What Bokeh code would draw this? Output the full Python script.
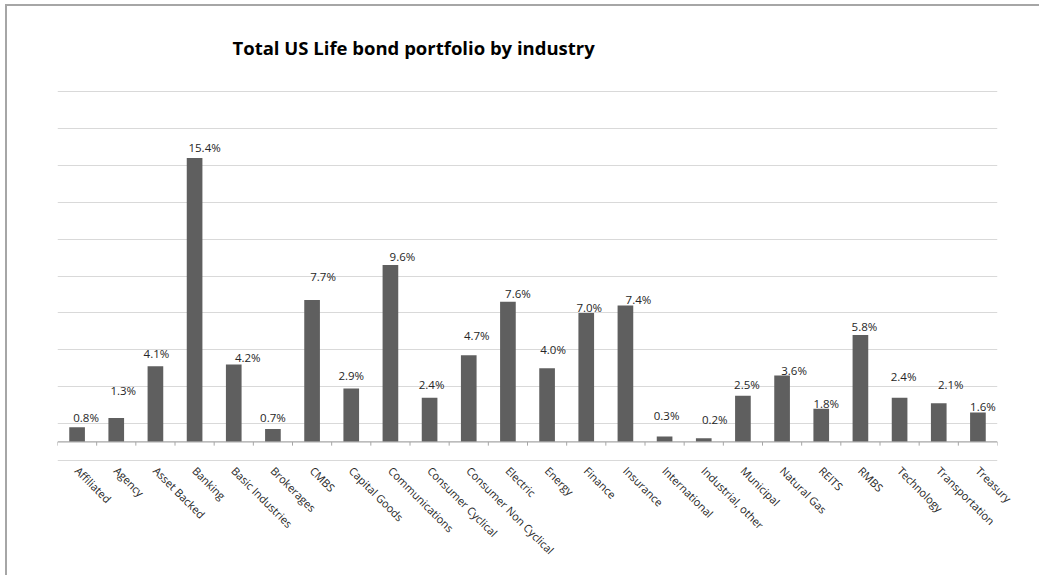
import math
from bokeh.plotting import figure
from bokeh.models import ColumnDataSource, Range1d, FixedTicker, Span, LabelSet
from bokeh.core.properties import value
from bokeh.transform import dodge
from bokeh.embed import file_html
from bokeh.resources import INLINE

categories = ["Affiliated", "Agency", "Asset Backed", "Banking", "Basic Industries",
              "Brokerages", "CMBS", "Capital Goods", "Communications", "Consumer Cyclical",
              "Consumer Non Cyclical", "Electric", "Energy", "Finance", "Insurance",
              "International", "Industrial, other", "Municipal", "Natural Gas", "REITS",
              "RMBS", "Technology", "Transportation", "Treasury"]
shares = [0.8, 1.3, 4.1, 15.4, 4.2, 0.7, 7.7, 2.9, 9.6, 2.4, 4.7, 7.6, 4.0, 7.0, 7.4,
          0.3, 0.2, 2.5, 3.6, 1.8, 5.8, 2.4, 2.1, 1.6]
labels = [f"{v:.1f}%" for v in shares]
gridline_ticks = [-1, 1, 3, 5, 7, 9, 11, 13, 15, 17, 19]
title_text = "Total US Life bond portfolio by industry"

# manual label nudges (pixels) as in the original chart
label_dx = [9, 7, 1, 10, 14, 0, 11, 0, 12, 2, 8, 10, 6, 3, 13, 2, 11, 4, 12, 5, 4, 4, 12, 5]
label_dy = [10, 27, 13, 10, 7, 12, 23, 13, 8, 13, 20, 8, 19, 5, 6, 21, 19, 11, 5, 5, 9, 21, 19, 6]

src = ColumnDataSource(dict(cat=categories, val=shares, lab=labels, dx=label_dx, dy=label_dy))

W, H = 1034, 571
p = figure(x_range=categories, y_range=Range1d(-1.06, 19.06), width=W, height=H,
           output_backend="svg", toolbar_location=None,
           min_border_left=50, min_border_right=44, min_border_top=84, min_border_bottom=116)
p.styles = {"border-top": "2px solid #a6a6a6", "border-left": "2px solid #a6a6a6",
            "margin-top": "4px", "margin-left": "5px"}
p.outline_line_color = None
p.background_fill_color = "white"
p.border_fill_color = "white"

p.title.text = title_text
p.title.text_font = "Open Sans"
p.title.text_font_size = "18.5px"
p.title.text_font_style = "bold"
p.title.text_color = "#000000"
p.title.align = "left"
p.title.vertical_align = "top"
p.title.offset = 175
p.title.standoff = 57

p.yaxis.visible = False
p.ygrid.ticker = FixedTicker(ticks=gridline_ticks)
p.ygrid.grid_line_color = "#d9d9d9"
p.xgrid.grid_line_color = None

ax = p.xaxis[0]
ax.axis_line_color = None
ax.major_tick_line_color = None
ax.minor_tick_line_color = None
ax.major_label_orientation = -math.pi / 4
ax.major_label_text_font = "Open Sans"
ax.major_label_text_font_size = "11px"
ax.major_label_text_color = "#262626"
ax.major_label_standoff = 1

p.vbar(x="cat", top="val", bottom=0, width=0.4, source=src,
       fill_color="#5f5f5f", line_color=None)

p.add_layout(Span(location=0, dimension="width", line_color="#a6a6a6", line_width=1.2))
# boundary ticks between categories
for off, cats in ((-0.5, categories), (0.5, categories[-1:])):
    s = ColumnDataSource(dict(cat=cats))
    p.segment(x0=dodge("cat", off, range=p.x_range), y0=0,
              x1=dodge("cat", off, range=p.x_range), y1=-0.2,
              source=s, line_color="#a6a6a6", line_width=1)

p.add_layout(LabelSet(x="cat", y="val", text="lab", source=src, x_offset="dx", y_offset="dy",
                      text_align="center", text_baseline="middle",
                      text_font=value("Open Sans"), text_font_size=value("11.5px"),
                      text_color="#262626"))

open("out.html", "w").write(file_html(p, INLINE))
